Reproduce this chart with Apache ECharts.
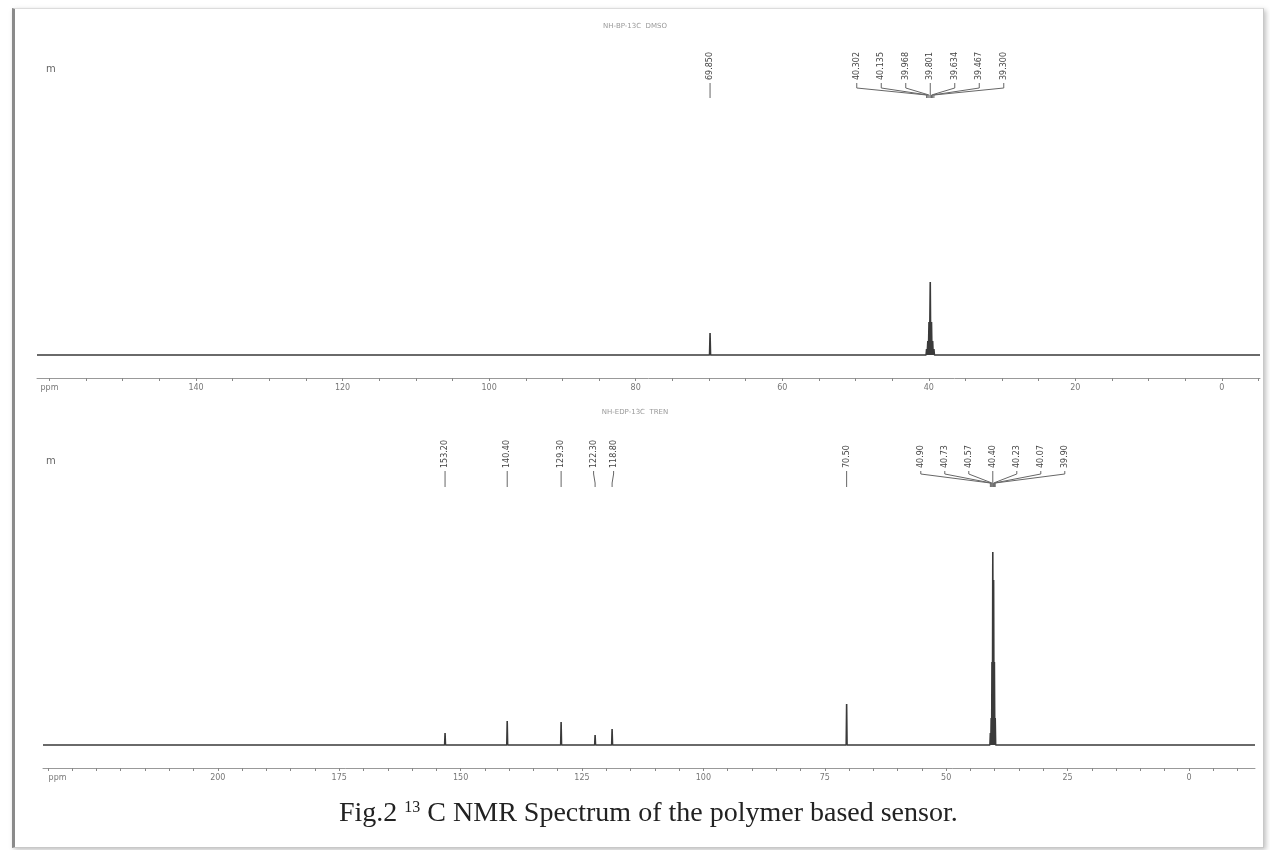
<!DOCTYPE html>
<html>
<head>
<meta charset="utf-8">
<script src="https://cdn.jsdelivr.net/npm/echarts@6/dist/echarts.min.js"></script>
<style>
  html, body { margin: 0; padding: 0; background: #ffffff; }
  #frame { position: absolute; left: 12px; top: 8px; width: 1248px; height: 838px;
           border-top: 1px solid #dcdcdc; border-right: 1px solid #c8c8c8; border-bottom: 1px solid #c8c8c8;
           border-left: 3px solid #8a8a8a; box-shadow: 2px 2px 5px rgba(0,0,0,0.25); background: #fff; }
  #chart { position: absolute; left: 0; top: 0; width: 1270px; height: 850px; }
</style>
</head>
<body>
<div id="frame"></div>
<div id="chart"></div>
<script>
// ---------- DATA ----------
// Top spectrum (upper panel)
const topPeakPpm       = [69.85, 40.30, 40.13, 39.97, 39.80, 39.63, 39.47, 39.30];
const topPeakIntensity = [22, 6, 14, 33, 73, 33, 14, 6];
const topPeakLabels    = ['69.850', '40.302', '40.135', '39.968', '39.801', '39.634', '39.467', '39.300'];
const topPeakGroup     = [0, 1, 1, 1, 1, 1, 1, 1];
const topTickValues    = [160, 140, 120, 100, 80, 60, 40, 20, 0];
const topTickLabels    = ['ppm', '140', '120', '100', '80', '60', '40', '20', '0'];

// Bottom spectrum (lower panel)
const botPeakPpm       = [153.20, 140.40, 129.30, 122.30, 118.80, 70.50, 40.90, 40.73, 40.57, 40.40, 40.23, 40.07, 39.90];
const botPeakIntensity = [12, 24, 23, 10, 16, 41, 12, 27, 83, 193, 165, 83, 27];
const botPeakLabels    = ['153.20', '140.40', '129.30', '122.30', '118.80', '70.50', '40.90', '40.73', '40.57', '40.40', '40.23', '40.07', '39.90'];
const botPeakGroup     = [0, 1, 2, 3, 3, 4, 5, 5, 5, 5, 5, 5, 5];
const botTickValues    = [233, 200, 175, 150, 125, 100, 75, 50, 25, 0];
const botTickLabels    = ['ppm', '200', '175', '150', '125', '100', '75', '50', '25', '0'];

const topTitle = 'NH-BP-13C  DMSO';
const botTitle = 'NH-EDP-13C  TREN';

// ---------- helpers ----------
const TOP_X = { min: -5.2, max: 161.7 };
const BOT_X = { min: -13.6, max: 236.0 };

function buildSpectrum(ppm, inten, xr, hw) {
  const order = ppm.map((p, i) => i).sort((a, b) => ppm[b] - ppm[a]);
  const pts = [[xr.max, 0]];
  order.forEach(i => {
    pts.push([ppm[i] + hw, 0], [ppm[i], inten[i]], [ppm[i] - hw, 0]);
  });
  pts.push([xr.min, 0]);
  return pts;
}

function buildLabelData(ppm, groups) {
  const out = [];
  ppm.forEach((p, i) => {
    const g = groups[i];
    const members = ppm.map((q, j) => j).filter(j => groups[j] === g);
    const center = members.reduce((s, j) => s + ppm[j], 0) / members.length;
    out.push([p, center, members.indexOf(i), members.length]);
  });
  return out;
}

function stepTicks(from, to, step) {
  const v = [];
  for (let x = from; x >= to; x -= step) v.push(x);
  return v;
}

function makeLabelRenderer(labels, layout) {
  return function (params, api) {
    const peakX = api.coord([api.value(0), 0])[0];
    const cx = api.coord([api.value(1), 0])[0];
    const idx = api.value(2), n = api.value(3);
    const sp = n > 2 ? layout.spacing : 20;
    const lx = n === 1 ? peakX : cx + (idx - (n - 1) / 2) * sp;
    const children = [{
      type: 'text', x: lx, y: layout.textBottom, rotation: Math.PI / 2,
      style: { text: labels[params.dataIndex], fontSize: 8, fontFamily: 'DejaVu Sans',
               fill: '#444', align: 'left', verticalAlign: 'middle' }
    }];
    const ls = { stroke: '#666', lineWidth: 1 };
    if (n === 1) {
      children.push({ type: 'line', shape: { x1: lx, y1: layout.textBottom + 3, x2: lx, y2: layout.end }, style: ls });
    } else {
      children.push({ type: 'polyline', shape: { points: [
        [lx, layout.textBottom + 3], [lx, layout.stub], [peakX, layout.converge], [peakX, layout.end]] },
        style: Object.assign({ fill: null }, ls) });
    }
    return { type: 'group', children: children };
  };
}

function axisCommon(xr, gridIndex, tickValues, tickLabels, minorTicks) {
  return {
    type: 'value', gridIndex: gridIndex, inverse: true, min: xr.min, max: xr.max,
    axisLine: { show: true, onZero: false, lineStyle: { color: '#999', width: 1 } },
    axisTick: { show: true, customValues: minorTicks, length: 3, lineStyle: { color: '#888' } },
    axisLabel: {
      customValues: tickValues, fontSize: 8, color: '#777', margin: 6, fontFamily: 'DejaVu Sans',
      formatter: v => { const i = tickValues.indexOf(v); return i >= 0 ? tickLabels[i] : ''; }
    },
    splitLine: { show: false }
  };
}

const chart = echarts.init(document.getElementById('chart'), null, { renderer: 'canvas' });

const option = {
  animation: false,
  backgroundColor: 'transparent',
  title: {
    text: '{a|Fig.2 }{s|13}{a| C NMR Spectrum of the polymer based sensor.}',
    left: 334, top: 795,
    textStyle: {
      fontWeight: 'normal',
      rich: {
        a: { fontFamily: 'Liberation Serif', fontSize: 28, fontWeight: 'normal', color: '#222' },
        s: { fontFamily: 'Liberation Serif', fontSize: 16, fontWeight: 'normal', color: '#222', verticalAlign: 'top', padding: [0, 0, 10, 0] }
      }
    }
  },
  grid: [
    { left: 37, right: 10, top: 100, height: 278 },
    { left: 43, right: 15, top: 490, height: 278 }
  ],
  xAxis: [
    axisCommon(TOP_X, 0, topTickValues, topTickLabels, stepTicks(160, -5, 5)),
    axisCommon(BOT_X, 1, botTickValues, botTickLabels, stepTicks(235, -10, 5))
  ],
  yAxis: [
    { type: 'value', gridIndex: 0, min: -23, max: 255, show: false },
    { type: 'value', gridIndex: 1, min: -23, max: 255, show: false }
  ],
  graphic: [
    { type: 'text', left: 'center', top: 23, style: { text: topTitle, fontSize: 7, fill: '#999', fontFamily: 'DejaVu Sans' } },
    { type: 'text', left: 'center', top: 409, style: { text: botTitle, fontSize: 7, fill: '#999', fontFamily: 'DejaVu Sans' } },
    { type: 'text', left: 46, top: 64, style: { text: 'm', fontSize: 10, fill: '#666', fontFamily: 'DejaVu Sans' } },
    { type: 'text', left: 46, top: 456, style: { text: 'm', fontSize: 10, fill: '#666', fontFamily: 'DejaVu Sans' } }
  ],
  series: [
    {
      type: 'line', xAxisIndex: 0, yAxisIndex: 0, showSymbol: false, silent: true,
      data: buildSpectrum(topPeakPpm, topPeakIntensity, TOP_X, 0.07),
      lineStyle: { color: '#3a3a3a', width: 1.6 }
    },
    {
      type: 'line', xAxisIndex: 1, yAxisIndex: 1, showSymbol: false, silent: true,
      data: buildSpectrum(botPeakPpm, botPeakIntensity, BOT_X, 0.09),
      lineStyle: { color: '#3a3a3a', width: 1.6 }
    },
    {
      type: 'custom', xAxisIndex: 0, yAxisIndex: 0, clip: false, silent: true,
      data: buildLabelData(topPeakPpm, topPeakGroup),
      renderItem: makeLabelRenderer(topPeakLabels, { textBottom: 80, stub: 88, converge: 95, end: 98, spacing: 24.5 })
    },
    {
      type: 'custom', xAxisIndex: 1, yAxisIndex: 1, clip: false, silent: true,
      data: buildLabelData(botPeakPpm, botPeakGroup),
      renderItem: makeLabelRenderer(botPeakLabels, { textBottom: 468, stub: 474, converge: 483, end: 487, spacing: 24 })
    }
  ]
};
chart.setOption(option);
</script>
</body>
</html>
